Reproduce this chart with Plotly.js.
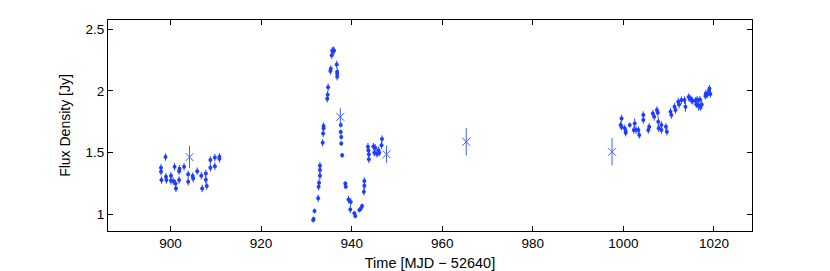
<!DOCTYPE html>
<html>
<head>
<meta charset="utf-8">
<script src="https://cdn.plot.ly/plotly-3.0.1.min.js"></script>
<style>html,body{margin:0;padding:0;background:#fff;}#chart{width:830px;height:271px;}</style>
</head>
<body>
<div id="chart"></div>
<script>
// Dense monitoring points: time (MJD - 52640), flux density (Jy), 1-sigma error
const dotTime = [
  897.9,897.9,898.0,898.9,899.0,899.1,900.1,900.1,900.6,900.9,901.1,901.2,901.9,901.9,902.0,903.0,903.9,903.9,904.9,905.0,905.9,906.8,907.0,907.8,907.8,908.0,908.8,908.8,909.8,909.8,910.8,910.8,
  931.5,931.6,931.8,932.6,932.7,932.8,933.0,933.0,933.0,933.6,933.7,933.8,933.8,934.6,934.7,934.8,935.3,935.4,935.6,935.7,936.0,936.1,936.7,936.8,936.8,936.8,937.6,937.6,937.7,937.7,937.9,938.6,938.7,939.3,939.8,939.7,940.6,940.8,941.7,942.0,942.3,942.7,942.8,942.8,943.6,943.7,943.8,943.8,944.8,945.0,945.2,945.6,945.9,946.1,946.6,946.7,
  999.6,999.4,999.6,1000.3,1000.5,1000.5,1001.4,1002.3,1002.5,1002.8,1003.3,1003.5,1004.4,1004.4,1005.5,1005.7,1006.5,1006.8,1007.4,1007.6,1007.7,1007.8,1008.4,1008.4,1009.4,1009.6,1010.4,1010.6,1011.3,1011.5,1012.1,1012.3,1012.8,1013.5,1013.7,1014.4,1014.7,1015.0,1015.3,1015.9,1016.1,1016.3,1016.6,1016.9,1017.0,1017.3,1018.1,1018.2,1018.5,1018.9,1019.0,1019.2
];
const dotFlux = [
  1.378,1.346,1.278,1.464,1.305,1.278,1.313,1.272,1.27,1.386,1.25,1.21,1.35,1.278,1.37,1.386,1.324,1.264,1.31,1.29,1.35,1.313,1.21,1.33,1.28,1.23,1.44,1.378,1.46,1.39,1.467,1.45,
  0.954,0.962,1.027,1.13,1.224,1.256,1.313,1.359,1.394,1.58,1.656,1.697,1.716,1.937,1.97,2.03,2.162,2.18,2.29,2.325,2.33,2.325,2.215,2.155,2.14,2.115,1.724,1.667,1.626,1.575,1.478,1.25,1.224,1.12,1.10,1.04,1.008,0.986,1.035,1.045,1.067,1.183,1.232,1.27,1.548,1.52,1.488,1.446,1.55,1.50,1.54,1.49,1.52,1.50,1.56,1.61,
  1.777,1.724,1.71,1.697,1.675,1.661,1.724,1.683,1.737,1.683,1.683,1.643,1.805,1.764,1.683,1.71,1.818,1.79,1.845,1.823,1.75,1.697,1.724,1.683,1.71,1.67,1.831,1.805,1.872,1.845,1.912,1.89,1.926,1.926,1.872,1.95,1.94,1.926,1.92,1.92,1.89,1.93,1.88,1.93,1.87,1.89,1.96,1.98,1.97,2.0,2.02,1.975
];
const dotErr = [
  0.03,0.03,0.03,0.03,0.03,0.03,0.03,0.03,0.03,0.03,0.03,0.03,0.03,0.03,0.03,0.03,0.03,0.03,0.03,0.03,0.03,0.03,0.03,0.03,0.03,0.03,0.03,0.03,0.03,0.03,0.03,0.03,
  0.02,0.02,0.02,0.03,0.03,0.03,0.03,0.03,0.03,0.03,0.03,0.03,0.03,0.03,0.03,0.03,0.03,0.03,0.03,0.03,0.03,0.03,0.03,0.03,0.03,0.03,0.02,0.02,0.02,0.02,0.02,0.02,0.02,0.03,0.03,0.03,0.02,0.02,0.02,0.02,0.02,0.03,0.03,0.03,0.03,0.03,0.03,0.03,0.03,0.03,0.03,0.03,0.03,0.03,0.03,0.03,
  0.03,0.03,0.03,0.03,0.03,0.03,0.02,0.03,0.04,0.03,0.03,0.03,0.03,0.03,0.03,0.03,0.03,0.03,0.03,0.03,0.04,0.03,0.03,0.03,0.03,0.03,0.03,0.03,0.03,0.03,0.03,0.03,0.03,0.03,0.04,0.03,0.03,0.03,0.03,0.03,0.03,0.03,0.04,0.03,0.03,0.04,0.03,0.03,0.03,0.03,0.03,0.03
];
// Sparse single-epoch measurements (drawn as crosses)
const crossTime = [904.2, 937.5, 947.7, 965.3, 997.5];
const crossFlux = [1.464, 1.79, 1.487, 1.588, 1.507];
const crossErr  = [0.09, 0.07, 0.07, 0.11, 0.11];

const xTicks = [900, 920, 940, 960, 980, 1000, 1020];
const yTicks = [1, 1.5, 2, 2.5];
const yTickText = ['1', '1.5', '2', '2.5'];

const dotColor = '#1f3dff';
const crossColor = '#3f5fff';

const traces = [
  {
    x: dotTime, y: dotFlux, type: 'scatter', mode: 'markers',
    marker: {symbol: 'circle', size: 4, color: dotColor},
    error_y: {type: 'data', array: dotErr, visible: true, color: dotColor, thickness: 1, width: 0},
    hoverinfo: 'x+y'
  },
  {
    x: crossTime, y: crossFlux, type: 'scatter', mode: 'markers',
    marker: {symbol: 'x-thin-open', size: 8, color: crossColor, line: {color: crossColor, width: 1}},
    error_y: {type: 'data', array: crossErr, visible: true, color: crossColor, thickness: 1, width: 0},
    hoverinfo: 'x+y'
  }
];

const fam = 'Liberation Sans, Arial, sans-serif';
const tickFont = {family: fam, size: 13.5, color: '#000'};
const layout = {
  width: 830, height: 271,
  margin: {l: 108, r: 78, t: 20, b: 40, pad: 0},
  paper_bgcolor: '#fff', plot_bgcolor: '#fff',
  showlegend: false,
  font: tickFont,
  xaxis: {
    range: [886.2, 1028.4], tickvals: xTicks, ticks: 'inside', ticklen: 5, tickcolor: '#000',
    showline: true, linecolor: '#000', linewidth: 1, mirror: 'ticks', showgrid: false, zeroline: false,
    tickfont: tickFont,
    title: {text: 'Time [MJD \u2212 52640]', font: {family: fam, size: 14.5, color: '#000'}, standoff: 7}
  },
  yaxis: {
    range: [0.865, 2.575], tickvals: yTicks, ticktext: yTickText, ticks: 'inside', ticklen: 5, tickcolor: '#000',
    showline: true, linecolor: '#000', linewidth: 1, mirror: 'ticks', showgrid: false, zeroline: false,
    tickfont: tickFont,
    title: {text: 'Flux Density [Jy]', font: {family: fam, size: 14, color: '#000'}, standoff: 11}
  }
};

Plotly.newPlot('chart', traces, layout, {displayModeBar: false, staticPlot: true});
</script>
</body>
</html>
